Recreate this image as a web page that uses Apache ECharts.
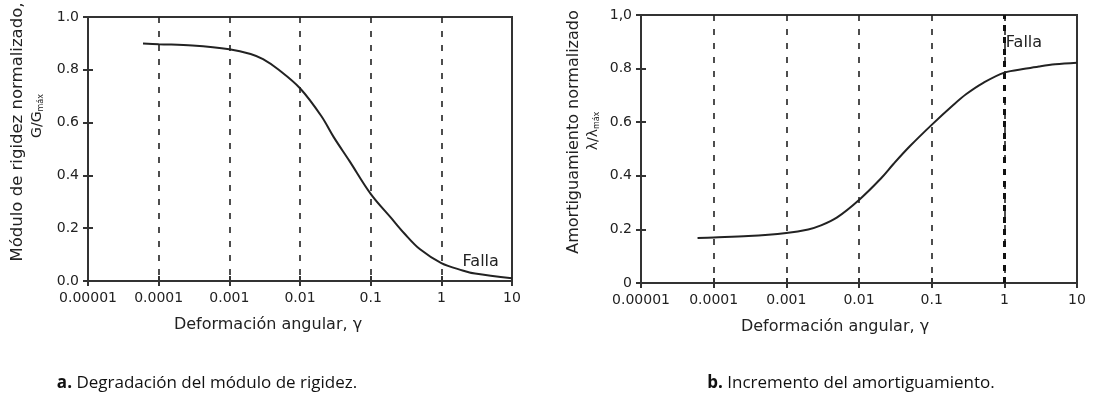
<!DOCTYPE html>
<html><head><meta charset="utf-8">
<script src="https://cdn.jsdelivr.net/npm/echarts@6/dist/echarts.min.js"></script>
<style>html,body{margin:0;padding:0;background:#fff}#c{width:1096px;height:406px}</style>
</head><body><div id="c"></div>
<script>
// ---- data ----
const xTickLabels = ['0.00001','0.0001','0.001','0.01','0.1','1','10'];
const yTickLabelsA = ['0.0','0.2','0.4','0.6','0.8','1.0'];
const yTickLabelsB = ['0','0.2','0.4','0.6','0.8','1,0'];
const strainA = [0.00006,0.0001,0.0003,0.001,0.002,0.003,0.005,0.01,0.02,0.03,0.05,0.1,0.2,0.3,0.5,1,2,3,10];
const stiffA  = [0.900,0.897,0.892,0.878,0.860,0.840,0.800,0.730,0.625,0.545,0.455,0.330,0.235,0.180,0.120,0.068,0.040,0.028,0.010];
const strainB = [0.00006,0.0001,0.0003,0.001,0.002,0.003,0.005,0.01,0.02,0.03,0.05,0.1,0.2,0.3,0.5,1,2,3,5,10];
const dampB   = [0.168,0.170,0.175,0.187,0.200,0.215,0.245,0.310,0.390,0.445,0.510,0.590,0.665,0.705,0.745,0.785,0.800,0.808,0.816,0.822];
const fallaA = [2.0, 0.072];
const fallaB = [1.05, 0.895];
const captionA = 'Degradación del módulo de rigidez.';
const captionB = 'Incremento del amortiguamiento.';

const FONT = 'DejaVu Sans';
const TXT = '#222';
const LINE = '#333';
const lbl = (arr) => (v) => { const i = Math.round(Math.log10(v)) + 5; return arr[i] ?? ''; };
const ylbl = (arr) => (v) => arr[Math.round(v / 0.2)] ?? '';

function xAxes(grid, primary, shift) {
  const base = {
    type: 'log', logBase: 10, min: 0.00001, max: 10, gridIndex: grid, position: 'bottom',
    axisLine: { show: primary, onZero: false, lineStyle: { color: LINE, width: 2 } },
    axisTick: { show: true, inside: !primary, length: 5, lineStyle: { color: LINE, width: 2 } },
    axisLabel: { show: primary, formatter: lbl(xTickLabels), color: TXT, fontFamily: FONT, fontSize: 14, margin: 10 },
    splitLine: { show: primary, showMinLine: false, showMaxLine: false, lineStyle: { color: '#222', width: 1.6, type: [6, 8] } },
    minorTick: { show: false }, minorSplitLine: { show: false }
  };
  if (primary) {
    base.name = 'Deformación angular, γ';
    base.nameLocation = 'middle';
    base.nameGap = 36;
    base.nameTextStyle = { color: TXT, fontFamily: FONT, fontSize: 16, padding: [0, shift * 2, 0, 0] };
  }
  return base;
}
function yAxes(grid, primary, labels) {
  return {
    type: 'value', min: 0, max: 1, interval: 0.2, gridIndex: grid, position: 'left',
    axisLine: { show: primary, onZero: false, lineStyle: { color: LINE, width: 2 } },
    axisTick: { show: true, inside: !primary, length: 5, lineStyle: { color: LINE, width: 2 } },
    axisLabel: { show: primary, formatter: ylbl(labels), color: TXT, fontFamily: FONT, fontSize: 14, margin: 9 },
    splitLine: { show: false }
  };
}
const pairs = (xs, ys) => xs.map((x, i) => [x, ys[i]]);

const chart = echarts.init(document.getElementById('c'), null, { renderer: 'canvas' });
chart.setOption({
  animation: false,
  backgroundColor: '#fff',
  grid: [
    { left: 88, top: 17, width: 424, height: 264, show: true, borderColor: LINE, borderWidth: 2, backgroundColor: 'transparent' },
    { left: 641, top: 15, width: 436, height: 268, show: true, borderColor: LINE, borderWidth: 2, backgroundColor: 'transparent' }
  ],
  xAxis: [xAxes(0, true, 32), xAxes(0, false), xAxes(1, true, 24), xAxes(1, false)],
  yAxis: [yAxes(0, true, yTickLabelsA), yAxes(0, false, yTickLabelsA), yAxes(1, true, yTickLabelsB), yAxes(1, false, yTickLabelsB)],
  series: [
    {
      type: 'line', xAxisIndex: 0, yAxisIndex: 0, data: pairs(strainA, stiffA), smooth: 0.35,
      showSymbol: false, lineStyle: { color: '#222', width: 2 }, z: 5,
      markPoint: { symbol: 'circle', symbolSize: 0, silent: true, data: [{ coord: fallaA, value: 'Falla' }],
        label: { show: true, position: 'right', distance: 0, formatter: 'Falla', color: TXT, fontFamily: FONT, fontSize: 16 } }
    },
    {
      type: 'line', xAxisIndex: 2, yAxisIndex: 2, data: pairs(strainB, dampB), smooth: 0.35,
      showSymbol: false, lineStyle: { color: '#222', width: 2 }, z: 5,
      markLine: { symbol: 'none', silent: true, label: { show: false },
        lineStyle: { color: '#111', width: 3, type: [6, 6] }, data: [{ xAxis: 1 }] },
      markPoint: { symbol: 'circle', symbolSize: 0, silent: true, data: [{ coord: fallaB, value: 'Falla' }],
        label: { show: true, position: 'right', distance: 0, formatter: 'Falla', color: TXT, fontFamily: FONT, fontSize: 16 } }
    }
  ],
  graphic: [
    { type: 'text', x: 18, y: 132, rotation: Math.PI / 2, style: { text: 'Módulo de rigidez normalizado,', fill: TXT, font: '16.5px "DejaVu Sans"', align: 'center', verticalAlign: 'middle' } },
    { type: 'text', x: 37, y: 116, rotation: Math.PI / 2, style: { text: 'G/G{s|máx}', fill: TXT, font: '14px "DejaVu Sans"', align: 'center', verticalAlign: 'middle',
        rich: { s: { fontSize: 8, fontFamily: FONT, fill: TXT, padding: [7, 0, 0, 0] } } } },
    { type: 'text', x: 574, y: 132, rotation: Math.PI / 2, style: { text: 'Amortiguamiento normalizado', fill: TXT, font: '16px "DejaVu Sans"', align: 'center', verticalAlign: 'middle' } },
    { type: 'text', x: 593, y: 131, rotation: Math.PI / 2, style: { text: 'λ/λ{s|máx}', fill: TXT, font: '14px "DejaVu Sans"', align: 'center', verticalAlign: 'middle',
        rich: { s: { fontSize: 8, fontFamily: FONT, fill: TXT, padding: [7, 0, 0, 0] } } } },
    { type: 'text', x: 207, y: 383, style: { text: '{b|a.} ' + captionA, fill: '#111', font: '17px "Open Sans"', align: 'center', verticalAlign: 'middle',
        rich: { b: { fontWeight: 'bold', fontSize: 17, fontFamily: 'Open Sans', fill: '#111' } } } },
    { type: 'text', x: 851, y: 383, style: { text: '{b|b.} ' + captionB, fill: '#111', font: '17px "Open Sans"', align: 'center', verticalAlign: 'middle',
        rich: { b: { fontWeight: 'bold', fontSize: 17, fontFamily: 'Open Sans', fill: '#111' } } } }
  ]
});
</script></body></html>
